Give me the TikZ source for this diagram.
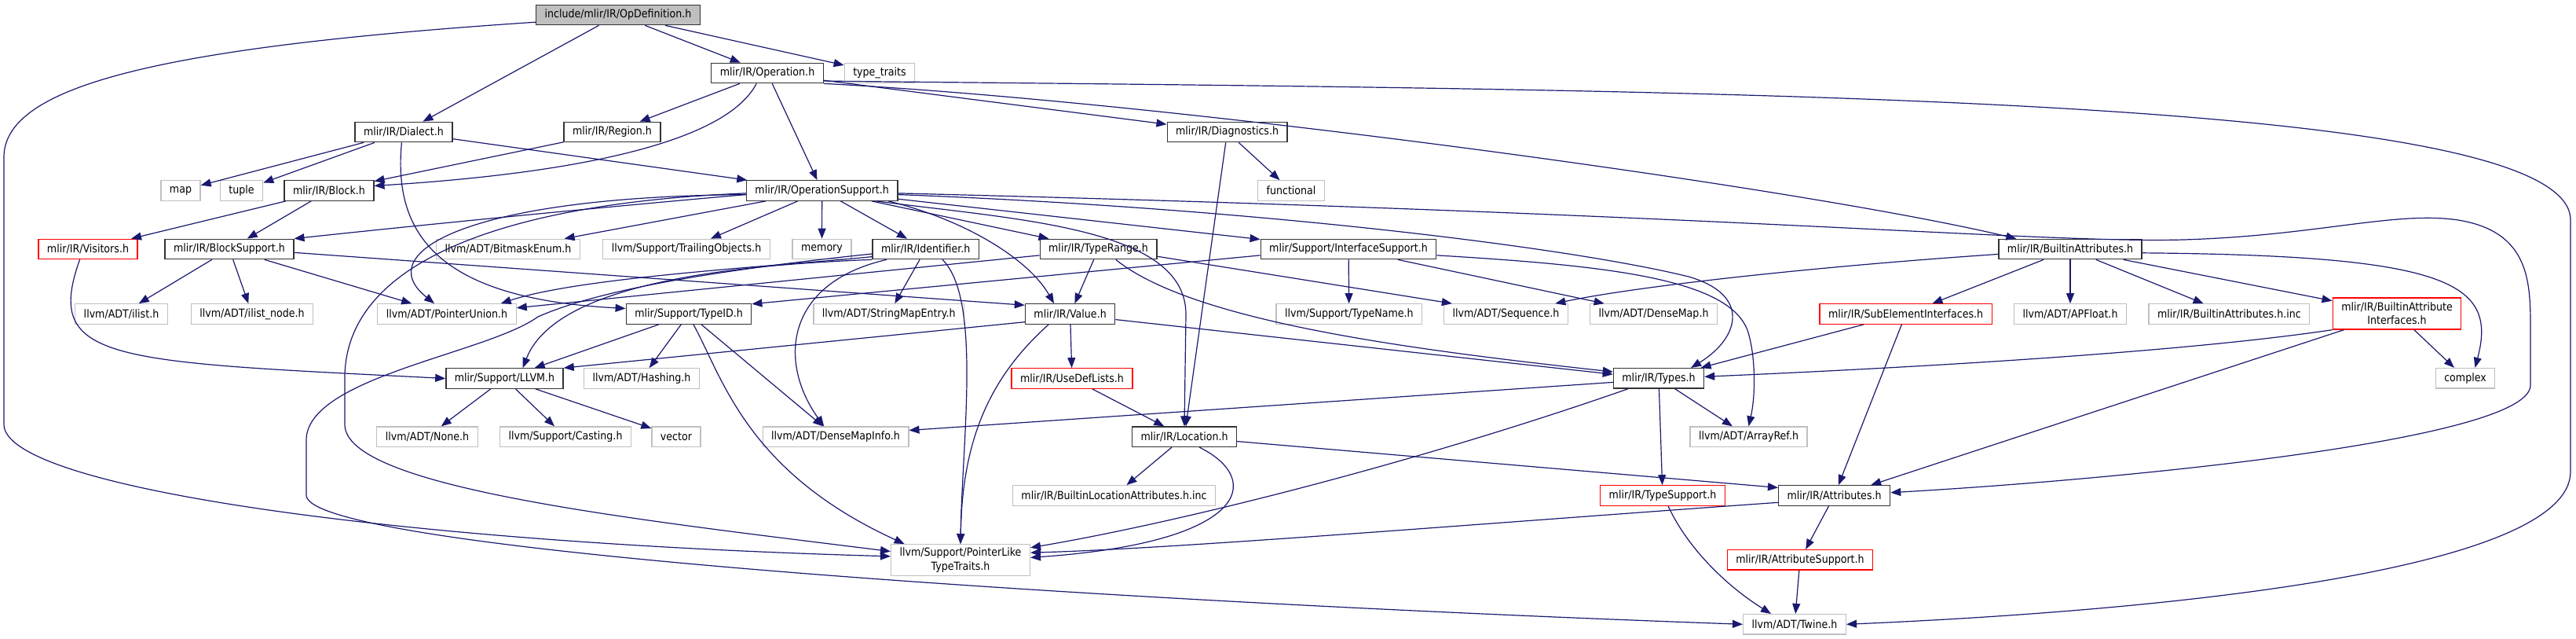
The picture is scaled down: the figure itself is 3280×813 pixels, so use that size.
\documentclass[tikz,border=0pt]{standalone}
\usepackage{fontspec}
\setmainfont{DejaVu Sans}[FakeStretch=0.89]
\usetikzlibrary{arrows.meta}
\definecolor{edgeblue}{HTML}{191970}
\definecolor{boxgray}{HTML}{BFBFBF}

\begin{document}
\begin{tikzpicture}[x=0.5pt,y=-0.5pt,
  hdr/.style={draw=black!80,line width=0.65pt,fill=white,font=\fontsize{7.1pt}{8.6pt}\selectfont,inner xsep=5.5pt,inner ysep=0pt,minimum height=12.7pt,align=center},
  ext/.style={hdr,draw=boxgray},
  trunc/.style={hdr,draw=red},
  root/.style={hdr,fill=boxgray},
  dep/.style={draw=edgeblue,line width=0.6pt,-{Triangle[length=6.5pt,width=5pt]}}
]
  \fill[white] (0,0) rectangle (3280,813);
  \useasboundingbox (0,0) rectangle (3280,813);

  \node[root] (opdef) at (787,19) {include/mlir/IR/OpDefinition.h};
  \node[hdr] (operation) at (977,93) {mlir/IR/Operation.h};
  \node[ext] (typetraits) at (1120,93) {type\_traits};
  \node[hdr] (dialect) at (514,168) {mlir/IR/Dialect.h};
  \node[hdr] (region) at (779.5,168) {mlir/IR/Region.h};
  \node[hdr] (diag) at (1562.6,168) {mlir/IR/Diagnostics.h};
  \node[ext] (map) at (230,242.5) {map};
  \node[ext] (tuple) at (307.5,242.5) {tuple};
  \node[hdr] (block) at (419,242.5) {mlir/IR/Block.h};
  \node[hdr] (opsupport) at (1046.7,242.5) {mlir/IR/OperationSupport.h};
  \node[ext] (functional) at (1644,242.5) {functional};
  \node[trunc] (visitors) at (112,317) {mlir/IR/Visitors.h};
  \node[hdr] (blocksupport) at (292,317) {mlir/IR/BlockSupport.h};
  \node[ext] (bitmask) at (647,317) {llvm/ADT/BitmaskEnum.h};
  \node[ext] (trailing) at (874,317) {llvm/Support/TrailingObjects.h};
  \node[ext] (memory) at (1046.5,317) {memory};
  \node[hdr] (ident) at (1178.7,317) {mlir/IR/Identifier.h};
  \node[hdr] (typerange) at (1398.5,317) {mlir/IR/TypeRange.h};
  \node[hdr] (iface) at (1717,317) {mlir/Support/InterfaceSupport.h};
  \node[hdr] (battrs) at (2636,317) {mlir/IR/BuiltinAttributes.h};
  \node[ext] (ilist) at (154.5,399.5) {llvm/ADT/ilist.h};
  \node[ext] (ilistnode) at (321,399.5) {llvm/ADT/ilist\_node.h};
  \node[ext] (ptrunion) at (569,399.5) {llvm/ADT/PointerUnion.h};
  \node[hdr] (typeid) at (877,399.5) {mlir/Support/TypeID.h};
  \node[ext] (stringmap) at (1131.7,399.5) {llvm/ADT/StringMapEntry.h};
  \node[hdr] (value) at (1362.6,399.5) {mlir/IR/Value.h};
  \node[ext] (typename) at (1717.8,399.5) {llvm/Support/TypeName.h};
  \node[ext] (sequence) at (1917.5,399.5) {llvm/ADT/Sequence.h};
  \node[ext] (densemap) at (2105.5,399.5) {llvm/ADT/DenseMap.h};
  \node[trunc] (subelem) at (2426.6,399.5) {mlir/IR/SubElementInterfaces.h};
  \node[ext] (apfloat) at (2636,399.5) {llvm/ADT/APFloat.h};
  \node[ext] (battrsinc) at (2838.4,399.5) {mlir/IR/BuiltinAttributes.h.inc};
  \node[trunc,minimum height=20pt] (baifaces) at (3052,399) {mlir/IR/BuiltinAttribute\\Interfaces.h};
  \node[hdr] (llvm) at (642.5,481.5) {mlir/Support/LLVM.h};
  \node[ext] (hashing) at (817,481.5) {llvm/ADT/Hashing.h};
  \node[trunc] (usedef) at (1365,481.5) {mlir/IR/UseDefLists.h};
  \node[hdr] (types) at (2112,481.3) {mlir/IR/Types.h};
  \node[ext] (complex) at (3139,481.2) {complex};
  \node[ext] (none) at (544,555.7) {llvm/ADT/None.h};
  \node[ext] (casting) at (720,555.7) {llvm/Support/Casting.h};
  \node[ext] (vector) at (861,555.7) {vector};
  \node[ext] (dmapinfo) at (1064,555.7) {llvm/ADT/DenseMapInfo.h};
  \node[hdr] (location) at (1508,555.7) {mlir/IR/Location.h};
  \node[ext] (arrayref) at (2226.5,555.7) {llvm/ADT/ArrayRef.h};
  \node[ext] (bilocinc) at (1418.5,630.5) {mlir/IR/BuiltinLocationAttributes.h.inc};
  \node[trunc] (typesupport) at (2117,630.5) {mlir/IR/TypeSupport.h};
  \node[hdr] (attrs) at (2335.6,630.5) {mlir/IR/Attributes.h};
  \node[ext,minimum height=19.8pt] (ptrlike) at (1223,712.5) {llvm/Support/PointerLike\\TypeTraits.h};
  \node[trunc] (attrsupport) at (2292,712.3) {mlir/IR/AttributeSupport.h};
  \node[ext] (twine) at (2285,794.3) {llvm/ADT/Twine.h};

  \draw[dep] (opdef) -- (dialect);
  \draw[dep] (opdef) -- (operation);
  \draw[dep] (opdef) -- (typetraits);
  \draw[dep] (opdef.-175) .. controls (200,60) and (5,110) .. (5,200) -- (5,540) .. controls (5,620) and (500,690) .. (ptrlike.177);

  \draw[dep] (operation) -- (region);
  \draw[dep] (operation.-136) .. controls (925,180) and (740,220) .. (block.6);
  \draw[dep] (operation) -- (opsupport);
  \draw[dep] (operation) -- (diag);
  \draw[dep] (operation.south east) .. controls (1500,130) and (2300,240) .. (battrs.169);
  \draw[dep] (operation.-8) .. controls (2200,115) and (3273,120) .. (3273,280) -- (3273,600) .. controls (3273,720) and (2800,775) .. (twine.east);

  \draw[dep] (dialect) -- (map);
  \draw[dep] (dialect) -- (tuple);
  \draw[dep] (dialect) -- (opsupport);
  \draw[dep] (dialect.-101) .. controls (500,300) and (560,380) .. (typeid.175);
  \draw[dep] (region) -- (block);
  \draw[dep] (block) -- (visitors);
  \draw[dep] (block) -- (blocksupport);
  \draw[dep] (visitors.-128) .. controls (55,460) and (140,460) .. (llvm.west);

  \draw[dep] (blocksupport) -- (ilist);
  \draw[dep] (blocksupport) -- (ilistnode);
  \draw[dep] (blocksupport) -- (ptrunion);
  \draw[dep] (blocksupport.-3) -- (value.169);

  \draw[dep] (opsupport.-177) .. controls (750,265) and (500,290) .. (blocksupport.north east);
  \draw[dep] (opsupport) -- (bitmask);
  \draw[dep] (opsupport) -- (trailing);
  \draw[dep] (opsupport) -- (memory);
  \draw[dep] (opsupport) -- (ident);
  \draw[dep] (opsupport) -- (typerange);
  \draw[dep] (opsupport.-9) .. controls (1230,280) and (1310,330) .. (value.147);
  \draw[dep] (opsupport) -- (iface);
  \draw[dep] (opsupport.-3) .. controls (1600,265) and (2000,315) .. (2150,352) .. controls (2230,375) and (2215,430) .. (types.18);
  \draw[dep] (opsupport.-2) .. controls (2200,272) and (2600,310) .. (2780,305) .. controls (2950,300) and (3050,268) .. (3130,280) .. controls (3222,295) and (3222,360) .. (3222,420) -- (3222,490) .. controls (3222,560) and (2700,610) .. (attrs.3);
  \draw[dep] (opsupport.-11) .. controls (1300,280) and (1510,290) .. (1510,400) -- (location.north);
  \draw[dep] (opsupport.-177) .. controls (600,250) and (470,320) .. (ptrunion.140);
  \draw[dep] (opsupport.-178) .. controls (650,258) and (440,330) .. (439,480) -- (439,540) .. controls (439,620) and (800,660) .. (ptrlike.173);

  \draw[dep] (diag) -- (functional);
  \draw[dep] (diag) -- (location);

  \draw[dep] (ident.-172) .. controls (1000,338) and (740,352) .. (ptrunion.11);
  \draw[dep] (ident.south west) .. controls (850,340) and (700,380) .. (llvm.30);
  \draw[dep] (ident) -- (stringmap);
  \draw[dep] (ident.-165) .. controls (1000,360) and (990,460) .. (dmapinfo.138);
  \draw[dep] (ident.-32) .. controls (1250,380) and (1225,560) .. (ptrlike.north);
  \draw[dep] (ident.-175) .. controls (900,345) and (760,370) .. (685,403) .. controls (620,450) and (390,480) .. (390,560) -- (390,630) .. controls (390,700) and (1400,765) .. (twine.west);

  \draw[dep] (typerange.-174) -- (ptrunion.5);
  \draw[dep] (typerange) -- (value);
  \draw[dep] (typerange.-31) .. controls (1520,410) and (1800,445) .. (types.172);
  \draw[dep] (typerange.-7) -- (sequence.169);

  \draw[dep] (iface.-176) -- (typeid.9);
  \draw[dep] (iface) -- (typename);
  \draw[dep] (iface) -- (densemap);
  \draw[dep] (iface.-4) .. controls (2050,338) and (2200,355) .. (2225,420) .. controls (2235,450) and (2236,500) .. (arrayref.north);

  \draw[dep] (typeid) -- (llvm);
  \draw[dep] (typeid) -- (hashing);
  \draw[dep] (typeid) -- (dmapinfo);
  \draw[dep] (typeid.-66) .. controls (920,480) and (950,600) .. (ptrlike.164);

  \draw[dep] (value.-170) -- (llvm.north east);
  \draw[dep] (value) -- (usedef);
  \draw[dep] (value.-7) -- (types.175);
  \draw[dep] (value.-154) .. controls (1260,480) and (1225,560) .. (ptrlike.north);

  \draw[dep] (llvm) -- (none);
  \draw[dep] (llvm) -- (casting);
  \draw[dep] (llvm) -- (vector);

  \draw[dep] (usedef) -- (location);
  \draw[dep] (location) -- (bilocinc);
  \draw[dep] (location.-5) -- (attrs.172);
  \draw[dep] (location.-35) .. controls (1610,610) and (1590,690) .. (ptrlike.2);

  \draw[dep] (types.-175) -- (dmapinfo.5);
  \draw[dep] (types) -- (arrayref);
  \draw[dep] (types) -- (typesupport);
  \draw[dep] (types.-161) .. controls (1800,590) and (1500,665) .. (ptrlike.10);
  \draw[dep] (typesupport.-62) .. controls (2145,690) and (2190,740) .. (twine.156);
  \draw[dep] (attrs) -- (attrsupport);
  \draw[dep] (attrs.-173) .. controls (1900,665) and (1500,698) .. (ptrlike.6);
  \draw[dep] (attrsupport) -- (twine);

  \draw[dep] (battrs.-176) .. controls (2300,340) and (2080,365) .. (sequence.12);
  \draw[dep] (battrs) -- (subelem);
  \draw[dep] (battrs) -- (apfloat);
  \draw[dep] (battrs) -- (battrsinc);
  \draw[dep] (battrs) -- (baifaces);
  \draw[dep] (battrs.-3) .. controls (3120,325) and (3180,360) .. (complex.47);
  \draw[dep] (subelem.-166) -- (types.14);
  \draw[dep] (subelem) -- (attrs);
  \draw[dep] (baifaces.south west) .. controls (2800,445) and (2500,465) .. (types.2);
  \draw[dep] (baifaces.-163) -- (attrs.16);
  \draw[dep] (baifaces) -- (complex);
\end{tikzpicture}
\end{document}
